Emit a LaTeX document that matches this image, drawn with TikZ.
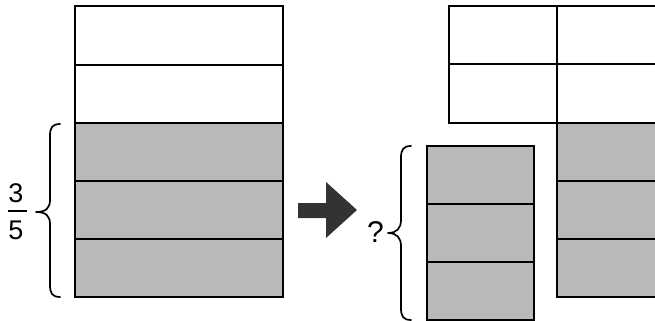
\documentclass[tikz,border=0pt]{standalone}
\usepackage{fontspec}
\setmainfont{Liberation Sans}
\begin{document}
\begin{tikzpicture}[x=0.5pt,y=-0.5pt,
  cell/.style={draw=black,line width=1.2pt,fill=white},
  shade/.style={draw=black,line width=1.2pt,fill=gray!55},
  bracepath/.style={draw=black,line width=0.85pt,line cap=round,line join=round},
  lbl/.style={font=\fontsize{13.5}{15}\selectfont,inner sep=0pt},
  qlbl/.style={font=\fontsize{15}{17}\selectfont,inner sep=0pt}]
\useasboundingbox (0,0) rectangle (655,321);
\clip (0,0) rectangle (655,321);

% left strip: two empty rows above three shaded rows
\draw[cell]  (75,6)   rectangle (283,65);
\draw[cell]  (75,65)  rectangle (283,123);
\draw[shade] (75,123) rectangle (283,181);
\draw[shade] (75,181) rectangle (283,239);
\draw[shade] (75,239) rectangle (283,297);

% brace with the fraction 3/5
\draw[bracepath] (60,124) .. controls (52,124) and (50,128) .. (50,136)
  -- (50,200) .. controls (50,208) and (46,212) .. (36,212)
  .. controls (46,212) and (50,216) .. (50,224)
  -- (50,285) .. controls (50,293) and (52,297) .. (60,297);
\node[lbl] (num) at (16,193) {3};
\node[lbl] (den) at (16,230) {5};
\draw[line width=1pt] (8,211) -- (27,211);

% arrow
\fill[black!80] (298,203) -- (326,203) -- (326,182) -- (357,210)
  -- (326,238) -- (326,218) -- (298,218) -- cycle;

% question brace
\node[qlbl] (q) at (375.5,232) {?};
\draw[bracepath] (411,146) .. controls (403,146) and (401,150) .. (401,158)
  -- (401,220) .. controls (401,228) and (397,233) .. (388,233)
  .. controls (397,233) and (401,238) .. (401,246)
  -- (401,308) .. controls (401,316) and (403,320) .. (411,320);

% small shaded column
\draw[shade] (427,146) rectangle (534,204);
\draw[shade] (427,204) rectangle (534,262);
\draw[shade] (427,262) rectangle (534,320);

% top-right grid of empty cells
\draw[cell] (449,6)  rectangle (557,64);
\draw[cell] (557,6)  rectangle (680,64);
\draw[cell] (449,64) rectangle (557,123);
\draw[cell] (557,64) rectangle (680,123);

% right shaded column
\draw[shade] (557,123) rectangle (680,181);
\draw[shade] (557,181) rectangle (680,239);
\draw[shade] (557,239) rectangle (680,297);
\end{tikzpicture}
\end{document}
